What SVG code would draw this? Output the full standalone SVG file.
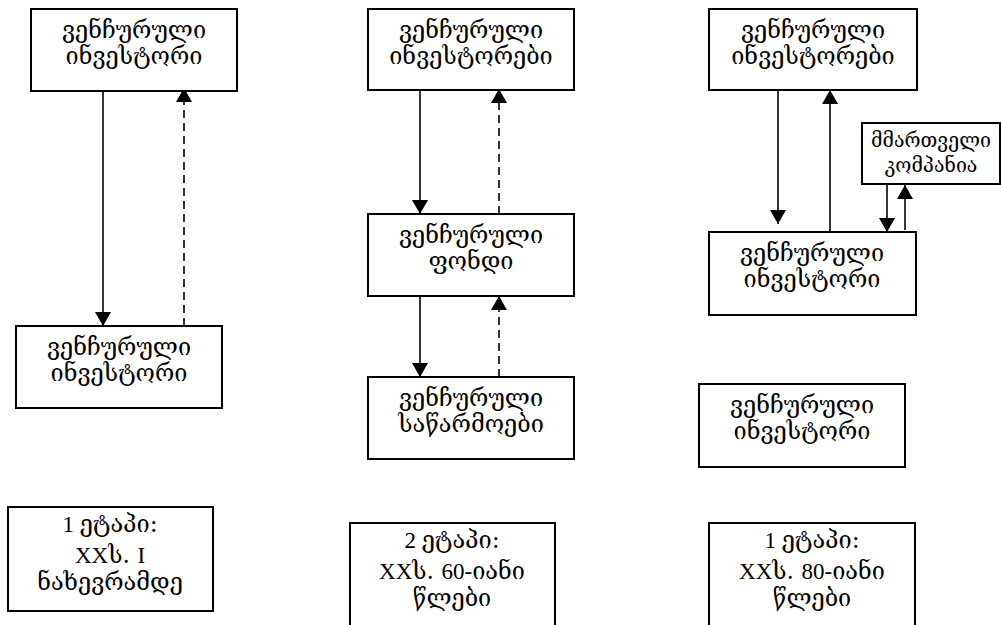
<svg xmlns="http://www.w3.org/2000/svg" width="1001" height="625" viewBox="0 0 1001 625">
<defs>
<style>
.box{fill:#fff;stroke:#000;stroke-width:2}
.t{font-family:"DejaVu Serif","Liberation Serif",serif;font-size:23.5px;fill:#000;text-anchor:middle}
.ts{font-family:"DejaVu Serif","Liberation Serif",serif;font-size:19.5px;fill:#000;text-anchor:middle}
.lat{font-family:"Liberation Serif",serif;font-size:23px}
.c{stroke:#000;stroke-width:1.6;fill:none}
.d{stroke-dasharray:8,5}
</style>
<marker id="ah" viewBox="0 0 14 16" refX="14" refY="8" markerWidth="14" markerHeight="16" markerUnits="userSpaceOnUse" orient="auto">
<path d="M0,0 L14,8 L0,16 z" fill="#000"/>
</marker>
</defs>
<rect width="1001" height="625" fill="#fff"/>
<g id="connectors">
<line class="c" x1="103" y1="91" x2="103" y2="326" marker-end="url(#ah)"/>
<line class="c d" x1="184" y1="326" x2="184" y2="88" marker-end="url(#ah)"/>
<line class="c" x1="420" y1="90" x2="420" y2="214" marker-end="url(#ah)"/>
<line class="c d" x1="499" y1="214" x2="499" y2="89" marker-end="url(#ah)"/>
<line class="c" x1="420" y1="296" x2="420" y2="377" marker-end="url(#ah)"/>
<line class="c d" x1="499" y1="377" x2="499" y2="296" marker-end="url(#ah)"/>
<line class="c" x1="778" y1="90" x2="778" y2="224" marker-end="url(#ah)"/>
<line class="c" x1="830" y1="232" x2="830" y2="90" marker-end="url(#ah)"/>
<line class="c" x1="887" y1="184" x2="887" y2="232" marker-end="url(#ah)"/>
<line class="c" x1="905" y1="230" x2="905" y2="185" marker-end="url(#ah)"/>
</g>
<g id="n1"><rect class="box" x="31" y="9" width="206" height="82"/><text class="t" x="134" y="38">ვენჩურული</text><text class="t" x="134" y="64">ინვესტორი</text></g>
<g id="n2"><rect class="box" x="16" y="326" width="206" height="82"/><text class="t" x="119" y="355">ვენჩურული</text><text class="t" x="119" y="381">ინვესტორი</text></g>
<g id="n3"><rect class="box" x="8" y="507" width="205" height="104"/><text class="t" x="110" y="532"><tspan class="lat">1 </tspan> ეტაპი:</text><text class="t" x="110" y="563"><tspan class="lat">XX</tspan>ს. <tspan class="lat">I</tspan></text><text class="t" x="110" y="590">ნახევრამდე</text></g>
<g id="n4"><rect class="box" x="368" y="9" width="206" height="81"/><text class="t" x="471" y="38">ვენჩურული</text><text class="t" x="471" y="64">ინვესტორები</text></g>
<g id="n5"><rect class="box" x="368" y="214" width="206" height="82"/><text class="t" x="471" y="243">ვენჩურული</text><text class="t" x="471" y="269">ფონდი</text></g>
<g id="n6"><rect class="box" x="368" y="377" width="206" height="82"/><text class="t" x="471" y="406">ვენჩურული</text><text class="t" x="471" y="432">საწარმოები</text></g>
<g id="n7"><rect class="box" x="350" y="523" width="205" height="110"/><text class="t" x="452" y="548"><tspan class="lat">2 </tspan> ეტაპი:</text><text class="t" x="452" y="579"><tspan class="lat">XX</tspan>ს. <tspan class="lat">60-</tspan>იანი</text><text class="t" x="452" y="606">წლები</text></g>
<g id="n8"><rect class="box" x="709" y="9" width="208" height="81"/><text class="t" x="813" y="38">ვენჩურული</text><text class="t" x="813" y="64">ინვესტორები</text></g>
<g id="n9"><rect class="box" x="862" y="123" width="138" height="61"/><text class="ts" x="931" y="147">მმართველი</text><text class="ts" x="931" y="172">კომპანია</text></g>
<g id="n10"><rect class="box" x="709" y="232" width="207" height="83"/><text class="t" x="812" y="261">ვენჩურული</text><text class="t" x="812" y="287">ინვესტორი</text></g>
<g id="n11"><rect class="box" x="699" y="384" width="206" height="83"/><text class="t" x="802" y="413">ვენჩურული</text><text class="t" x="802" y="439">ინვესტორი</text></g>
<g id="n12"><rect class="box" x="709" y="523" width="206" height="110"/><text class="t" x="812" y="548"><tspan class="lat">1 </tspan> ეტაპი:</text><text class="t" x="812" y="579"><tspan class="lat">XX</tspan>ს. <tspan class="lat">80-</tspan>იანი</text><text class="t" x="812" y="606">წლები</text></g>
</svg>
